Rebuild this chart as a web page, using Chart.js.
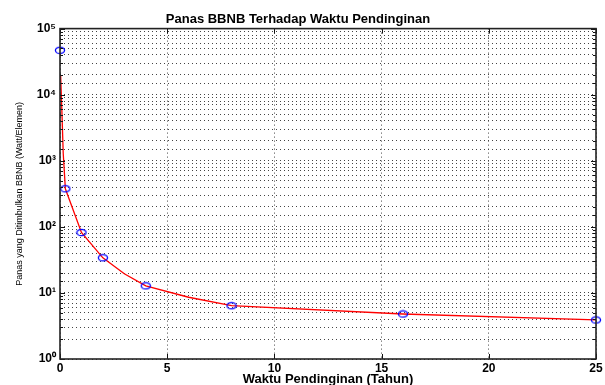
<!DOCTYPE html>
<html>
<head>
<meta charset="utf-8">
<script src="https://cdn.jsdelivr.net/npm/chart.js@4/dist/chart.umd.min.js"></script>
<style>
html,body{margin:0;padding:0;background:#fff;overflow:hidden;}
canvas{display:block;}
</style>
</head>
<body>
<canvas id="c" width="605" height="385"></canvas>
<script>
// Data
const chartTitle = 'Panas BBNB Terhadap Waktu Pendinginan';
const xTitle = 'Waktu Pendinginan (Tahun)';
const yTitle = 'Panas yang Ditimbulkan BBNB (Watt/Elemen)';
const markerT = [0, 0.25, 1, 2, 4, 8, 16, 25];
const markerP = [47000, 377, 82, 34, 12.8, 6.4, 4.8, 3.9];
const curveT = [0.03, 0.09, 0.15, 0.25, 1, 2, 3, 4, 6, 8, 16, 25];
const curveP = [19500, 5400, 1300, 377, 82, 34, 19.5, 12.8, 8.6, 6.4, 4.8, 3.9];
const xTicks = [0, 5, 10, 15, 20, 25];
const yMin = 1, yMax = 100000;

const sup = {'0':'⁰','1':'¹','2':'²','3':'³','4':'⁴','5':'⁵','6':'⁶','7':'⁷','8':'⁸','9':'⁹'};
function decadeLabel(v){
  const l = Math.log10(v);
  if (Math.abs(l - Math.round(l)) > 1e-9) return '';
  return '10' + String(Math.round(l)).split('').map(c => sup[c]).join('');
}

// open ellipse marker style (MATLAB 'o' marker, stretched)
const marker = document.createElement('canvas');
marker.width = 12; marker.height = 9;
(function(){
  const m = marker.getContext('2d');
  m.strokeStyle = '#0000ff';
  m.lineWidth = 1.3;
  m.beginPath();
  m.ellipse(6, 4.5, 4.6, 3.2, 0, 0, Math.PI * 2);
  m.stroke();
})();

const framePlugin = {
  id: 'frame',
  afterDraw(chart){
    const {ctx, chartArea: a, scales} = chart;
    ctx.save();
    ctx.strokeStyle = '#111';
    ctx.lineWidth = 1;
    ctx.beginPath();
    scales.y.ticks.forEach(t => {
      const y = Math.round(scales.y.getPixelForValue(t.value)) + 0.5;
      const major = decadeLabel(t.value) !== '';
      const len = major ? 5 : 3;
      ctx.moveTo(a.left, y); ctx.lineTo(a.left + len, y);
      ctx.moveTo(a.right, y); ctx.lineTo(a.right - len, y);
    });
    xTicks.forEach(v => {
      const x = Math.round(scales.x.getPixelForValue(v)) + 0.5;
      ctx.moveTo(x, a.bottom); ctx.lineTo(x, a.bottom - 5);
      ctx.moveTo(x, a.top); ctx.lineTo(x, a.top + 5);
    });
    ctx.stroke();
    ctx.lineWidth = 1.6;
    ctx.strokeStyle = '#222';
    ctx.strokeRect(a.left, a.top, a.right - a.left, a.bottom - a.top);
    ctx.restore();
  }
};

new Chart(document.getElementById('c'), {
  type: 'scatter',
  data: {
    datasets: [
      {
        label: 'fit',
        data: curveT.map((t, i) => ({x: t, y: curveP[i]})),
        showLine: true,
        borderColor: '#ff0000',
        borderWidth: 1.3,
        pointRadius: 0,
        tension: 0,
        order: 2
      },
      {
        label: 'data',
        data: markerT.map((t, i) => ({x: t, y: markerP[i]})),
        showLine: false,
        pointStyle: marker,
        pointRadius: 4,
        borderColor: '#0000ff',
        backgroundColor: 'rgba(0,0,0,0)',
        order: 1
      }
    ]
  },
  options: {
    responsive: false,
    animation: false,
    clip: false,
    layout: {padding: {left: 0, right: 9, top: 0, bottom: 0}},
    plugins: {
      legend: {display: false},
      tooltip: {enabled: false},
      title: {
        display: true,
        text: chartTitle,
        color: '#000',
        font: {family: 'Liberation Sans', size: 13, weight: 'bold'},
        padding: {top: 12, bottom: 1}
      }
    },
    scales: {
      x: {
        type: 'linear',
        min: 0, max: 25,
        afterBuildTicks(s){ s.ticks = xTicks.map(v => ({value: v})); },
        afterFit(s){ s.height = 26; s.paddingLeft = 0; s.paddingRight = 0; },
        ticks: {
          color: '#000',
          padding: 2,
          maxRotation: 0,
          autoSkip: false,
          font: {family: 'Liberation Sans', size: 12, weight: 'bold'}
        },
        grid: {
          color: '#444',
          lineWidth: 1,
          drawTicks: false
        },
        border: {display: false, dash: [1, 3]},
        title: {
          display: true,
          text: xTitle,
          color: '#000',
          padding: {top: 0, bottom: -2},
          font: {family: 'Liberation Sans', size: 13, weight: 'bold'}
        }
      },
      y: {
        type: 'logarithmic',
        min: yMin, max: yMax,
        afterFit(s){ s.width = 60; s.paddingTop = 0; s.paddingBottom = 0; },
        ticks: {
          color: '#000',
          padding: 4,
          autoSkip: false,
          callback: (v) => decadeLabel(v),
          font: {family: 'Liberation Sans', size: 12, weight: 'bold'}
        },
        grid: {
          color: '#444',
          lineWidth: 1,
          drawTicks: false
        },
        border: {display: false, dash: [1, 3]},
        title: {
          display: true,
          text: yTitle,
          color: '#000',
          padding: {top: 14, bottom: 0},
          font: {family: 'Liberation Sans', size: 9}
        }
      }
    }
  },
  plugins: [framePlugin]
});
</script>
</body>
</html>
